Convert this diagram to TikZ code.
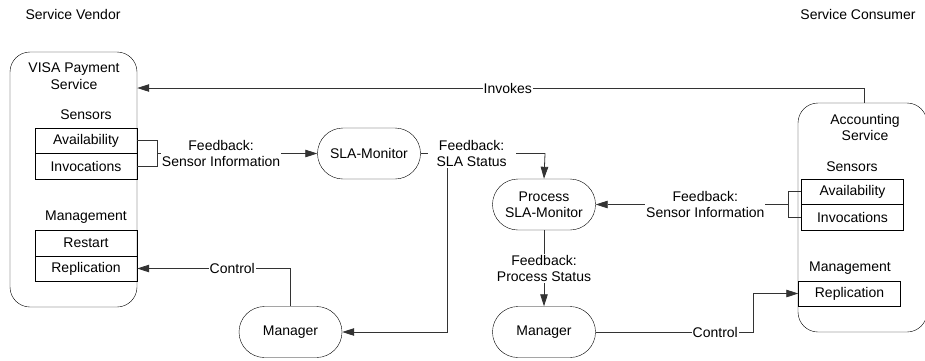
\documentclass[tikz,border=0pt]{standalone}
\usepackage{fontspec}
\setmainfont{Liberation Sans}
\usetikzlibrary{arrows.meta,shapes.misc}
\begin{document}
\begin{tikzpicture}[x=1pt,y=-1pt,font=\fontsize{14}{16.5}\selectfont,
	box/.style={draw,rectangle,minimum width=102pt,minimum height=25.5pt,inner sep=0pt},
	proc/.style={draw,rounded rectangle,minimum width=103pt,minimum height=51pt,align=center,inner sep=0pt},
	comp/.style={draw,rounded corners=20pt,inner sep=0pt},
	lbl/.style={fill=white,inner sep=1pt,align=center},
	conn/.style={draw=black!80,line width=0.8pt},
	arr/.style={conn,-{Triangle[length=12pt,width=7.5pt]}}]
	\clip (0,0) rectangle (925,360);
	\def\bx{157}%Klammer links
	\def\by{788}%Klammer rechts
	% Vendor
	\node (vendor) at (73,14) {Service Vendor};
	\node[comp,minimum width=127pt,minimum height=255pt] (visa) at (73.5,179.5) {};
	\node[align=center] (visat) at (74,76) {VISA Payment\\Service};
	\node (sens1) at (86,115) {Sensors};
	\node[box] (avail1) at (86,140.5) {Availability};
	\node[box] (inv1) at (86,166) {Invocations};
	\node (man1) at (86,217) {Management};
	\node[box] (rest1) at (86,243) {Restart};
	\node[box] (repl1) at (86,268.5) {Replication};
	% Consumer
	\node (consumer) at (858,14) {Service Consumer};
	\node[comp,minimum width=129pt,minimum height=229pt] (acc) at (862.5,217.5) {};
	\node[align=center] (acct) at (865,127.5) {Accounting\\Service};
	\node (sens2) at (852,167) {Sensors};
	\node[box] (avail2) at (852.5,191.5) {Availability};
	\node[box] (inv2) at (852.5,217) {Invocations};
	\node (man2) at (850,268) {Management};
	\node[box] (repl2) at (849.5,293.5) {Replication};
	% Monitore und Manager
	\node[proc] (sla) at (369,153.5) {SLA-Monitor};
	\node[proc] (psla) at (544,204.5) {Process\\SLA-Monitor};
	\node[proc] (mgr1) at (290.5,332) {Manager};
	\node[proc] (mgr2) at (544,332) {Manager};
	\coordinate (brk1) at (\bx,153.5);
	\coordinate (brk2) at (\by,204.5);
	\coordinate (c1) at (864,88);
	\coordinate (c2) at (447,331);
	\coordinate (c3) at (545,153.5);
	\coordinate (c4) at (753,0);
	% Verbindungen
	\draw[arr] (c1 |- acc.north) -- (c1) -- node[lbl,pos=0.49] {Invokes} (c1 -| visa.east);
	\draw[conn] (avail1.east) -- (\bx,140.5) |- (inv1.east);
	\draw[arr] (brk1) -- node[lbl,pos=0.4] {Feedback:\\Sensor Information} (sla.west);
	\draw[arr] (sla.east) -- node[lbl,pos=0.41,inner xsep=9pt] (fb2) {Feedback:\\SLA Status} (c3) -- (psla.north);
	\draw[arr] (fb2.south -| c2) |- (mgr1.east);
	\draw[arr] (mgr1.north) |- node[lbl,pos=0.69] {Control} (repl1.east);
	\draw[conn] (avail2.west) -- (\by,191.5) |- (inv2.west);
	\draw[arr] (brk2) -- node[lbl,pos=0.43] {Feedback:\\Sensor Information} (psla.east);
	\draw[arr] (psla.south) -- node[lbl] {Feedback:\\Process Status} (mgr2.north);
	\draw[arr] (mgr2.east) -| node[lbl,pos=0.38] {Control} (c4 |- repl2.west) -- (repl2.west);
\end{tikzpicture}
\end{document}
